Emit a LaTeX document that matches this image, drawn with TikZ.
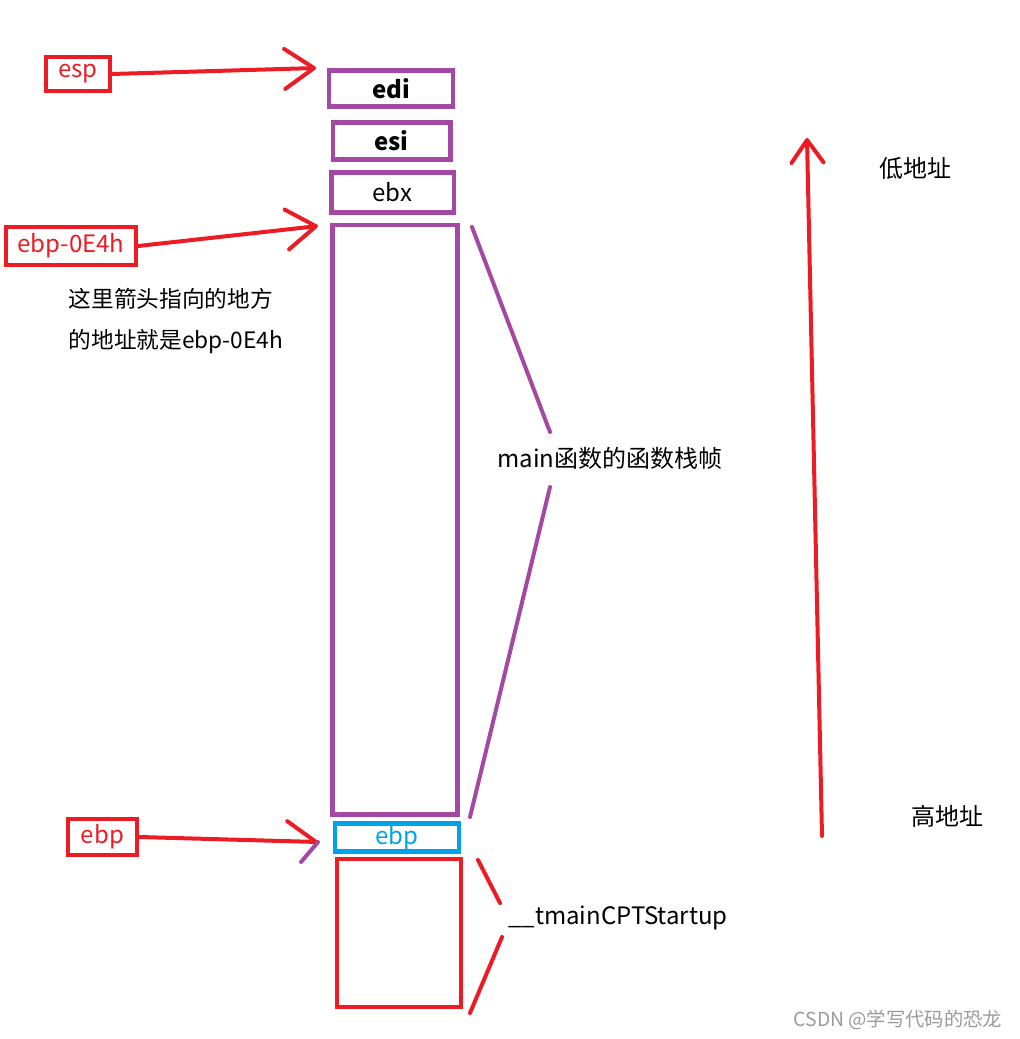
\documentclass[tikz,border=0pt]{standalone}
\usepackage{fontspec}
\setmainfont{Noto Sans CJK SC}
\usetikzlibrary{arrows.meta,positioning}
\definecolor{pred}{HTML}{ED1C24}
\definecolor{ppurple}{HTML}{A349A4}
\definecolor{pblue}{HTML}{00A2E8}
\definecolor{pgray}{HTML}{9A9A9A}

\begin{document}
\begin{tikzpicture}[x=0.75pt, y=-0.75pt, font=\fontsize{18}{21}\selectfont]
    % Define styles
    \tikzstyle{slot} = [rectangle, draw=ppurple, line width=3.5pt, inner sep=0pt, text=black]
    \tikzstyle{ptr} = [rectangle, draw=pred, line width=3pt, inner sep=0pt, text=pred]
    \tikzstyle{arrow} = [draw=pred, line width=3pt, line cap=round, -{Straight Barb[length=22pt, width=30pt, round]}]
    \tikzstyle{brace} = [line width=3pt, line cap=round]
    \useasboundingbox (0,0) rectangle (1020,1039);

    % Stack slots
    \node [slot, minimum width=93pt, minimum height=27pt, font=\fontsize{18}{21}\selectfont\bfseries] (edi) at (391,88.5) {edi};
    \node [slot, minimum width=88pt, minimum height=28pt, font=\fontsize{18}{21}\selectfont\bfseries] (esi) at (391.5,141) {esi};
    \node [slot, minimum width=92pt, minimum height=30pt] (ebx) at (392.5,192.5) {ebx};
    \node [slot, minimum width=94pt, minimum height=442pt] (frame) at (395,519.5) {};
    \node [slot, draw=pblue, text=pblue, minimum width=93pt, minimum height=21pt] (ebp) at (397,837.5) {ebp};
    \node [slot, draw=pred, line width=3pt, minimum width=93pt, minimum height=111pt] (startup) at (398.5,933) {};

    % Pointers
    \node [ptr, minimum width=48pt, minimum height=26pt] (esp) at (78,74) {esp};
    \node [ptr, minimum width=98pt, minimum height=29pt] (offset) at (71,246) {ebp-0E4h};
    \node [ptr, minimum width=52pt, minimum height=27pt] (ebpptr) at (102.5,837) {ebp};

    % Arrows
    \coordinate (esptip) at (316,68);
    \coordinate (offtip) at (318,226);
    \coordinate (ebptip) at (318,842);
    \draw [arrow] (esp.east) -- (esptip);
    \draw [arrow] (offset.east) -- (offtip);
    \draw [arrow, -{Straight Barb[harpoon, length=22pt, width=30pt, round]}] (ebpptr.east) -- (ebptip);
    \draw [brace, ppurple] (ebptip) -- ++(-17,20);

    % Notes
    \node [align=left, anchor=north west, font=\fontsize{17}{30.75}\selectfont] (note) at (64,284) {这里箭头指向的地方\\的地址就是ebp-0E4h};
    \node (mainlbl) at (610,458) {main函数的函数栈帧};
    \node (startlbl) at (618,918) {\_\_tmainCPTStartup};

    % Braces
    \coordinate (mA) at (472,227);
    \coordinate (mB) at (550,432);
    \coordinate (mC) at (550,487);
    \coordinate (mD) at (470,817);
    \draw [brace, ppurple] (mA) -- (mB);
    \draw [brace, ppurple] (mC) -- (mD);
    \coordinate (sA) at (478,860);
    \coordinate (sB) at (500,903);
    \coordinate (sC) at (502,937);
    \coordinate (sD) at (470,1013);
    \draw [brace, pred] (sA) -- (sB);
    \draw [brace, pred] (sC) -- (sD);

    % Address direction
    \node (low) at (915,168) {低地址};
    \node (high) at (947,816) {高地址};
    \coordinate (hightail) at (822,836);
    \coordinate (lowtip) at (807,138);
    \draw [arrow, -{Straight Barb[length=17pt, width=24pt, round]}] (hightail) -- (lowtip);

    \node [text=pgray, font=\fontsize{14.5}{17}\selectfont] (mark) at (898,1020) {CSDN @学写代码的恐龙};
\end{tikzpicture}
\end{document}
